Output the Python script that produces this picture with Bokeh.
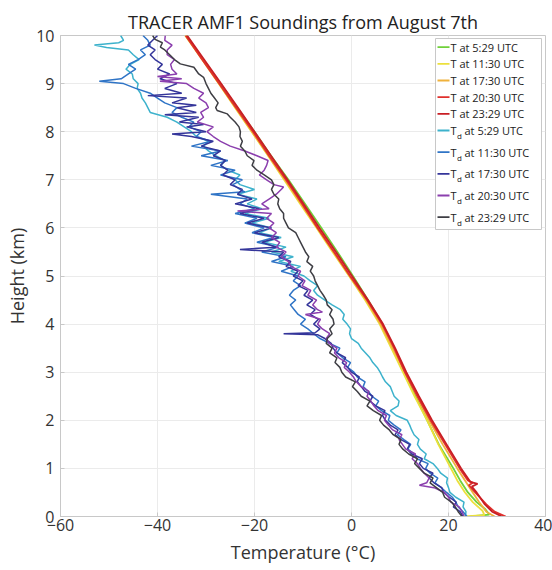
from bokeh.plotting import figure
from bokeh.models import Range1d, FixedTicker, Label, BoxAnnotation
from bokeh.embed import file_html
from bokeh.resources import INLINE

# ---------------- data ----------------
X_TICKS = [-60, -40, -20, 0, 20, 40]
Y_TICKS = [0, 1, 2, 3, 4, 5, 6, 7, 8, 9, 10]
TIMES = ["5:29", "11:30", "17:30", "20:30", "23:29"]

# Temperature profiles (height km, temperature C)
H_T_0529 = [0.0, 0.04, 0.15, 0.3, 0.5, 0.75, 1.0, 1.5, 2.0, 2.5, 3.0, 3.5, 4.0, 4.5, 5.0,
            5.5, 6.0, 6.5, 7.0, 7.5, 8.0, 8.5, 9.0, 9.5, 10.0]
T_0529 = [24.5, 28.4, 27.6, 25.8, 24.0, 22.4, 21.0, 18.0, 15.6, 13.2, 11.0, 8.8, 6.4, 3.4, 0.3,
          -2.9, -6.2, -9.6, -13.0, -16.6, -20.0, -23.6, -27.0, -30.6, -34.0]

H_T_1130 = [0.0, 0.03, 0.12, 0.3, 0.5, 0.75, 1.0, 1.5, 2.0, 2.5, 3.0, 3.5, 4.0, 4.5, 5.0,
            5.5, 6.0, 6.5, 7.0, 7.5, 8.0, 8.5, 9.0, 9.5, 10.0]
T_1130 = [23.2, 27.4, 27.0, 25.0, 23.4, 21.8, 20.5, 17.9, 15.6, 13.0, 10.6, 8.2, 5.8, 2.8, -0.5,
          -3.9, -7.2, -10.6, -13.9, -17.2, -20.6, -24.0, -27.4, -30.8, -34.3]

H_T_1730 = [0.0, 0.1, 0.3, 0.5, 0.75, 1.0, 1.5, 2.0, 2.5, 3.0, 3.5, 4.0, 4.5, 5.0,
            5.5, 6.0, 6.5, 7.0, 7.5, 8.0, 8.5, 9.0, 9.5, 10.0]
T_1730 = [29.5, 27.8, 26.3, 25.0, 23.4, 21.8, 18.8, 16.0, 13.5, 11.0, 8.5, 6.0, 3.0, -0.4,
          -3.7, -7.0, -10.4, -13.7, -17.1, -20.5, -23.9, -27.3, -30.7, -34.2]

H_T_2030 = [0.0, 0.1, 0.25, 0.5, 0.65, 0.7, 0.75, 1.0, 1.5, 2.0, 2.5, 3.0, 3.5, 4.0, 4.5,
            5.0, 5.5, 6.0, 6.5, 7.0, 7.5, 8.0, 8.5, 9.0, 9.5, 10.0]
T_2030 = [31.8, 29.5, 27.8, 25.5, 24.2, 25.0, 24.0, 22.3, 19.3, 16.3, 13.6, 11.0, 8.8, 6.3, 3.2,
          -0.3, -3.6, -7.0, -10.2, -13.5, -17.0, -20.3, -23.8, -27.3, -30.8, -34.2]

H_T_2329 = [0.0, 0.1, 0.25, 0.5, 0.62, 0.68, 0.72, 1.0, 1.5, 2.0, 2.5, 3.0, 3.5, 4.0, 4.5,
            5.0, 5.5, 6.0, 6.5, 7.0, 7.5, 8.0, 8.5, 9.0, 9.5, 10.0]
T_2329 = [31.0, 29.0, 27.5, 25.8, 24.8, 26.0, 24.5, 22.6, 19.6, 16.6, 13.9, 11.3, 9.0, 6.5, 3.4,
          0.1, -3.2, -6.6, -9.9, -13.2, -16.6, -20.0, -23.4, -26.9, -30.4, -33.9]

# Dew point profiles
H_TD_0529 = [0.0, 0.1, 0.2, 0.3, 0.4, 0.5, 0.6, 0.7, 0.8, 0.9,
             1.0, 1.1, 1.2, 1.3, 1.4, 1.5, 1.6, 1.7, 1.8, 1.9,
             2.0, 2.1, 2.2, 2.3, 2.4, 2.5, 2.6, 2.7, 2.8, 2.9,
             3.0, 3.1, 3.2, 3.3, 3.4, 3.5, 3.6, 3.7, 3.8, 3.9,
             4.0, 4.1, 4.2, 4.3, 4.4, 4.5, 4.6, 4.7, 4.8, 4.9,
             5.0, 5.1, 5.2, 5.3, 5.4, 5.5, 5.6, 5.7, 5.8, 5.9,
             6.0, 6.1, 6.2, 6.3, 6.4, 6.5, 6.6, 6.7, 6.8, 6.9,
             7.0, 7.1, 7.2, 7.3, 7.4, 7.5, 7.6, 7.7, 7.8, 7.9,
             8.0, 8.1, 8.2, 8.3, 8.4, 8.5, 8.6, 8.7, 8.8, 8.9,
             9.0, 9.1, 9.2, 9.3, 9.4, 9.5, 9.6, 9.7, 9.75, 9.8,
             9.85, 9.9, 10.0]
TD_0529 = [23.5, 23.6, 23.0, 23.2, 21.5, 20.3, 20.0, 19.6, 19.8, 18.4,
           17.7, 16.8, 15.0, 15.4, 14.2, 13.6, 13.9, 12.9, 12.4, 12.0,
           11.5, 9.2, 8.0, 9.6, 9.8, 8.8, 8.4, 8.0, 7.0, 6.4,
           5.9, 5.3, 4.4, 3.8, 2.9, 2.0, 1.4, 0.0, -0.4, -0.2,
           -0.9, -1.8, -1.5, -2.3, -4.0, -5.5, -7.0, -7.8, -7.0, -8.5,
           -9.8, -12.5, -10.5, -15.0, -12.0, -16.5, -13.5, -18.0, -14.5, -19.0,
           -16.5, -20.5, -17.0, -22.0, -18.5, -21.5, -19.5, -23.5, -20.0, -23.0,
           -24.0, -23.0, -25.5, -27.0, -26.0, -28.0, -29.5, -30.5, -29.5, -32.0,
           -33.0, -34.5, -36.0, -38.0, -41.5, -42.0, -42.5, -43.2, -43.5, -44.2,
           -44.0, -45.0, -45.2, -46.5, -45.6, -43.8, -45.0, -46.0, -50.5, -53.0,
           -48.0, -47.0, -47.6]

H_TD_1130 = [0.0, 0.1, 0.2, 0.3, 0.4, 0.5, 0.6, 0.7, 0.8, 0.9,
             1.0, 1.1, 1.2, 1.3, 1.4, 1.5, 1.6, 1.7, 1.8, 1.9,
             2.0, 2.1, 2.2, 2.3, 2.4, 2.5, 2.6, 2.7, 2.8, 2.9,
             3.0, 3.1, 3.2, 3.3, 3.4, 3.5, 3.6, 3.7, 3.8, 3.9,
             4.0, 4.1, 4.2, 4.3, 4.4, 4.5, 4.6, 4.7, 4.8, 4.9,
             5.0, 5.1, 5.2, 5.3, 5.4, 5.5, 5.6, 5.7, 5.8, 5.9,
             6.0, 6.1, 6.2, 6.3, 6.4, 6.5, 6.6, 6.7, 6.75, 6.8,
             6.9, 7.0, 7.1, 7.2, 7.3, 7.4, 7.5, 7.6, 7.7, 7.8,
             7.9, 8.0, 8.1, 8.2, 8.3, 8.4, 8.5, 8.6, 8.7, 8.8,
             8.9, 9.0, 9.05, 9.1, 9.2, 9.3, 9.4, 9.5, 9.6, 9.7,
             9.8, 9.9, 10.0]
TD_1130 = [23.8, 23.0, 22.0, 21.5, 20.8, 19.6, 18.5, 17.2, 17.8, 16.2,
           15.3, 15.8, 13.5, 12.9, 11.6, 12.2, 10.8, 9.5, 10.2, 8.8,
           7.6, 7.9, 6.2, 5.0, 5.6, 4.2, 3.5, 2.4, 2.8, 1.2,
           0.5, -0.8, -0.2, -1.8, -3.0, -2.4, -4.5, -6.5, -7.8, -9.0,
           -10.5, -9.5, -11.0, -11.8, -12.6, -11.5, -12.8, -12.0, -10.5, -12.0,
           -11.0, -14.5, -12.0, -16.5, -13.5, -18.5, -15.0, -19.5, -16.0, -20.5,
           -18.0, -22.0, -19.5, -24.0, -20.0, -23.0, -21.5, -29.0, -22.0, -23.0,
           -24.5, -22.5, -27.0, -24.0, -29.0, -25.5, -31.0, -27.0, -33.0, -29.0,
           -32.0, -31.0, -33.5, -32.5, -35.0, -37.0, -36.0, -38.5, -40.0, -41.5,
           -44.5, -47.0, -52.0, -47.5, -46.0, -44.5, -46.0, -44.0, -42.5, -43.5,
           -41.5, -42.0, -43.0]

H_TD_1730 = [0.0, 0.1, 0.2, 0.3, 0.4, 0.5, 0.6, 0.7, 0.8, 0.9,
             1.0, 1.1, 1.2, 1.3, 1.4, 1.5, 1.6, 1.7, 1.8, 1.9,
             2.0, 2.1, 2.2, 2.3, 2.4, 2.5, 2.6, 2.7, 2.8, 2.9,
             3.0, 3.1, 3.2, 3.3, 3.4, 3.5, 3.6, 3.7, 3.78, 3.8,
             3.82, 3.9, 4.0, 4.1, 4.2, 4.3, 4.4, 4.5, 4.6, 4.7,
             4.8, 4.9, 5.0, 5.1, 5.2, 5.3, 5.4, 5.5, 5.55, 5.6,
             5.7, 5.8, 5.9, 6.0, 6.1, 6.2, 6.3, 6.4, 6.5, 6.6,
             6.7, 6.8, 6.9, 7.0, 7.1, 7.2, 7.3, 7.4, 7.5, 7.6,
             7.7, 7.8, 7.9, 7.95, 8.0, 8.1, 8.15, 8.2, 8.3, 8.35,
             8.4, 8.5, 8.55, 8.6, 8.7, 8.75, 8.8, 8.9, 9.0, 9.1,
             9.2, 9.3, 9.4, 9.5, 9.6, 9.7, 9.8, 9.9, 10.0]
TD_1730 = [23.0, 22.4, 21.0, 21.6, 20.2, 19.0, 18.6, 17.0, 16.0, 16.8,
           14.8, 14.0, 14.6, 12.4, 11.5, 12.0, 10.2, 9.0, 9.6, 8.0,
           7.0, 6.4, 6.9, 5.0, 3.8, 4.4, 2.8, 2.0, 1.2, 1.6,
           0.0, -0.8, -1.9, -1.2, -3.0, -3.8, -4.2, -5.5, -7.0, -14.0,
           -7.5, -6.5, -7.8, -6.8, -8.5, -7.5, -9.2, -8.0, -9.8, -9.0,
           -11.0, -10.0, -12.0, -11.0, -13.5, -12.5, -15.0, -14.0, -23.0, -15.5,
           -18.5, -15.0, -20.0, -16.5, -21.5, -18.0, -23.0, -19.0, -24.0, -20.5,
           -23.5, -22.5, -25.0, -24.0, -26.5, -25.5, -27.0, -26.0, -28.5, -27.0,
           -31.0, -28.5, -33.0, -37.0, -30.0, -34.0, -30.5, -35.5, -31.5, -38.5,
           -32.0, -36.0, -32.0, -37.0, -34.0, -42.0, -35.0, -38.5, -36.0, -39.5,
           -37.5, -40.0, -39.0, -40.5, -41.5, -40.5, -42.0, -41.0, -40.0]

H_TD_2030 = [0.0, 0.1, 0.2, 0.3, 0.4, 0.5, 0.6, 0.65, 0.7, 0.8,
             0.9, 1.0, 1.1, 1.2, 1.3, 1.4, 1.5, 1.6, 1.7, 1.8,
             1.9, 2.0, 2.1, 2.2, 2.3, 2.4, 2.5, 2.6, 2.7, 2.8,
             2.9, 3.0, 3.1, 3.2, 3.3, 3.4, 3.5, 3.6, 3.7, 3.8,
             3.9, 4.0, 4.1, 4.2, 4.25, 4.3, 4.4, 4.5, 4.6, 4.7,
             4.8, 4.9, 5.0, 5.1, 5.2, 5.3, 5.4, 5.5, 5.6, 5.7,
             5.8, 5.9, 6.0, 6.1, 6.2, 6.3, 6.35, 6.4, 6.5, 6.6,
             6.7, 6.8, 6.85, 6.9, 7.0, 7.1, 7.2, 7.3, 7.4, 7.5,
             7.6, 7.7, 7.8, 7.9, 8.0, 8.1, 8.2, 8.3, 8.4, 8.5,
             8.6, 8.7, 8.8, 8.9, 9.0, 9.05, 9.1, 9.15, 9.2, 9.3,
             9.4, 9.5, 9.6, 9.7, 9.8, 9.9, 10.0]
TD_2030 = [23.2, 22.8, 22.2, 20.5, 20.0, 19.2, 17.0, 14.0, 15.5, 16.0,
           15.0, 14.2, 13.6, 12.5, 13.2, 11.2, 10.5, 9.8, 10.4, 8.5,
           7.6, 6.8, 7.2, 5.5, 4.6, 4.0, 3.2, 3.6, 2.0, 1.0,
           0.4, -0.4, -1.5, -1.0, -2.6, -3.5, -3.0, -4.6, -5.2, -4.5,
           -6.0, -7.0, -6.4, -9.5, -6.0, -7.0, -8.0, -7.2, -9.0, -8.4,
           -10.2, -9.6, -11.0, -10.5, -12.5, -13.0, -14.5, -13.5, -15.5, -14.8,
           -16.5, -15.5, -17.0, -16.0, -17.5, -16.5, -23.5, -17.0, -18.5, -17.0,
           -15.5, -14.5, -14.0, -16.0, -17.5, -19.0, -18.0, -17.5, -17.2, -19.5,
           -22.0, -25.0, -27.0, -28.5, -29.8, -28.5, -31.8, -30.5, -31.1, -29.5,
           -30.0, -31.5, -30.5, -32.5, -34.0, -39.5, -35.0, -40.0, -36.0, -37.0,
           -37.3, -36.5, -38.0, -38.0, -37.0, -38.5, -38.4]

H_TD_2329 = [0.0, 0.1, 0.2, 0.3, 0.4, 0.5, 0.6, 0.7, 0.8, 0.9,
             1.0, 1.1, 1.2, 1.3, 1.4, 1.5, 1.6, 1.7, 1.8, 1.9,
             2.0, 2.1, 2.2, 2.3, 2.4, 2.5, 2.6, 2.7, 2.8, 2.9,
             3.0, 3.1, 3.2, 3.3, 3.4, 3.5, 3.6, 3.7, 3.8, 3.9,
             4.0, 4.1, 4.2, 4.3, 4.4, 4.5, 4.6, 4.7, 4.8, 4.9,
             5.0, 5.1, 5.2, 5.3, 5.4, 5.5, 5.6, 5.7, 5.8, 5.9,
             6.0, 6.1, 6.2, 6.3, 6.4, 6.5, 6.6, 6.7, 6.8, 6.9,
             7.0, 7.1, 7.2, 7.3, 7.4, 7.5, 7.6, 7.7, 7.8, 7.9,
             8.0, 8.1, 8.2, 8.3, 8.37, 8.44, 8.5, 8.6, 8.72, 8.8,
             8.9, 9.0, 9.13, 9.2, 9.34, 9.41, 9.5, 9.6, 9.7, 9.76,
             9.85, 9.92, 10.0]
TD_2329 = [22.8, 22.0, 21.4, 20.6, 19.2, 18.8, 17.5, 16.2, 16.8, 15.0,
           14.0, 13.0, 13.6, 11.8, 10.6, 9.8, 10.2, 8.6, 7.8, 6.6,
           5.8, 6.2, 4.5, 3.2, 3.8, 2.0, 1.2, 0.2, 0.8, -1.2,
           -2.0, -2.4, -3.4, -3.0, -4.5, -4.0, -5.2, -5.0, -4.0, -4.5,
           -3.6, -3.8, -4.5, -4.0, -5.0, -5.2, -5.8, -6.5, -7.0, -7.5,
           -7.8, -8.5, -8.0, -9.2, -8.8, -9.5, -10.0, -10.5, -11.0, -11.5,
           -13.0, -13.5, -14.0, -14.0, -14.8, -15.2, -15.0, -16.0, -16.5, -16.0,
           -16.5, -18.0, -19.5, -20.5, -20.1, -21.5, -22.0, -22.9, -22.5, -23.0,
           -22.9, -23.2, -24.0, -25.0, -25.6, -27.7, -28.0, -27.5, -28.4, -29.0,
           -29.5, -30.0, -30.5, -31.5, -32.5, -35.3, -36.5, -37.5, -38.5, -39.4,
           -39.0, -40.5, -41.0]

T_COLORS = ["#6fd13a", "#ece03c", "#f0b23c", "#e0302c", "#c81e24"]
TD_COLORS = ["#3db2cc", "#2f74c6", "#34359a", "#8b3fae", "#3e3e44"]

T_SERIES = [(H_T_0529, T_0529), (H_T_1130, T_1130), (H_T_1730, T_1730),
            (H_T_2030, T_2030), (H_T_2329, T_2329)]
TD_SERIES = [(H_TD_0529, TD_0529), (H_TD_1130, TD_1130), (H_TD_1730, TD_1730),
             (H_TD_2030, TD_2030), (H_TD_2329, TD_2329)]

FONT = "Open Sans"

# ---------------- figure ----------------
p = figure(width=552, height=570, output_backend="svg", toolbar_location=None,
           x_range=Range1d(-60, 40), y_range=Range1d(0, 10),
           min_border_left=60, min_border_right=7, min_border_top=35, min_border_bottom=54,
           background_fill_color="white", border_fill_color="white")

p.title.text = "TRACER AMF1 Soundings from August 7th"
p.title.align = "center"
p.title.text_font = FONT
p.title.text_font_size = "18px"
p.title.text_font_style = "normal"
p.title.text_color = "#222222"
p.title.standoff = 4

p.outline_line_color = "#c8c8c8"
p.outline_line_width = 1

for ax in (p.xaxis[0], p.yaxis[0]):
    ax.major_label_text_font = FONT
    ax.major_label_text_font_size = "16px"
    ax.major_label_text_color = "#333333"
    ax.axis_label_text_font = FONT
    ax.axis_label_text_font_size = "18px"
    ax.axis_label_text_font_style = "normal"
    ax.axis_label_text_color = "#333333"
    ax.axis_line_color = "#c8c8c8"
    ax.major_tick_line_color = "#c8c8c8"
    ax.major_tick_in = 4
    ax.major_tick_out = 0
    ax.minor_tick_line_color = None

p.xaxis.ticker = FixedTicker(ticks=X_TICKS)
p.yaxis.ticker = FixedTicker(ticks=Y_TICKS)
p.xaxis.axis_label = "Temperature (°C)"
p.yaxis.axis_label = "Height (km)"
p.xaxis.major_label_standoff = 2
p.xaxis.axis_label_standoff = 6
p.yaxis.major_label_standoff = 6
p.yaxis.axis_label_standoff = 4

p.xgrid.grid_line_color = "#ebebeb"
p.ygrid.grid_line_color = "#ebebeb"
p.xgrid.ticker = FixedTicker(ticks=X_TICKS)
p.ygrid.ticker = FixedTicker(ticks=Y_TICKS)

for (h, t), c in zip(T_SERIES, T_COLORS):
    p.line(t, h, line_color=c, line_width=1.8)
for (h, t), c in zip(TD_SERIES, TD_COLORS):
    p.line(t, h, line_color=c, line_width=1.5)

# ---------------- legend (manual, to allow the subscript d) ----------------
legend_box = BoxAnnotation(left=375, right=481, top=478, bottom=287,
                           left_units="screen", right_units="screen",
                           top_units="screen", bottom_units="screen",
                           fill_color="white", fill_alpha=1.0,
                           line_color="#c8c8c8", line_width=1, line_alpha=1.0)
p.add_layout(legend_box)

T_ROWS_Y = [469.3, 452.7, 436.0, 419.3, 402.7]
TD_ROWS_Y = [386.0, 364.3, 342.7, 321.0, 299.3]

def sample(y, color):
    p.add_layout(BoxAnnotation(left=377, right=389, top=y + 0.9, bottom=y - 0.9,
                               left_units="screen", right_units="screen",
                               top_units="screen", bottom_units="screen",
                               fill_color=color, fill_alpha=1.0, line_alpha=0))

def lab(x, y, text, size="11px"):
    p.add_layout(Label(x=x, y=y, x_units="screen", y_units="screen", text=text,
                       text_font=FONT, text_font_size=size, text_color="#222222",
                       text_baseline="middle", text_align="left"))

for y, c, tm in zip(T_ROWS_Y, T_COLORS, TIMES):
    sample(y, c)
    lab(390, y, f"T at {tm} UTC")
for y, c, tm in zip(TD_ROWS_Y, TD_COLORS, TIMES):
    sample(y, c)
    lab(390, y, "T")
    lab(396.5, y - 5, "d", size="8px")
    lab(404, y, f"at {tm} UTC")

open("out.html", "w").write(file_html(p, INLINE))
